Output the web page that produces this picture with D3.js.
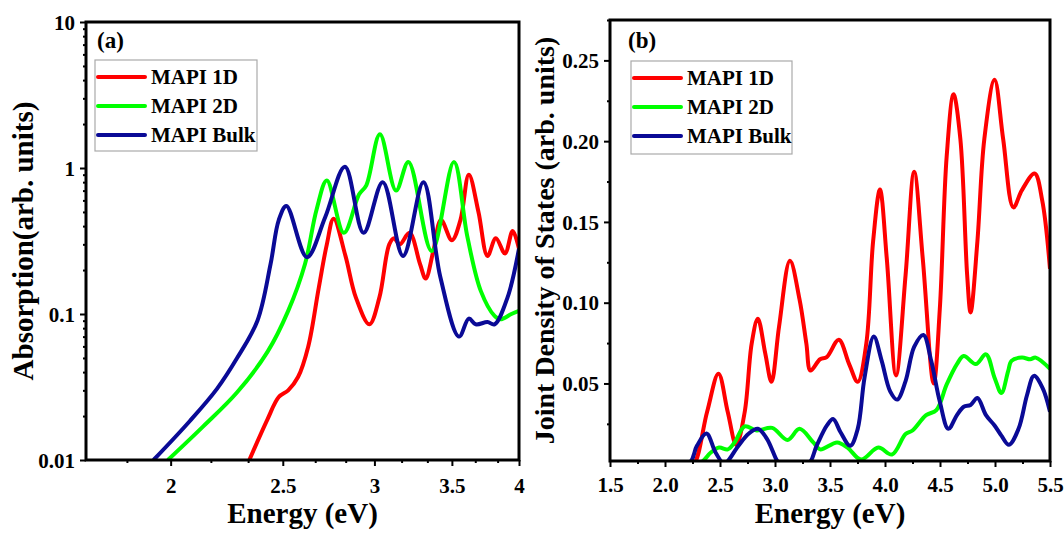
<!DOCTYPE html>
<html>
<head>
  <script src="https://d3js.org/d3.v7.min.js"></script>
  <style>
    body { margin: 0; background: #fff; }
    svg text { font-family: "Liberation Serif", "Times New Roman", serif; font-weight: bold; fill: #000; }
    .tick text { font-size: 21px; }
    .tick line { stroke: #000; stroke-width: 2; }
  </style>
</head>
<body>
  <svg id="chart" width="1064" height="537"></svg>
  <script>
    var seriesNames = ['MAPI 1D', 'MAPI 2D', 'MAPI Bulk'];
    var seriesColors = ['#ff0000', '#00ff00', '#0a0a96'];

    // (a) absorption, log-log
    var absE1D = [2.339, 2.425, 2.48, 2.527, 2.577, 2.63, 2.685, 2.729, 2.766, 2.832, 2.891, 2.97, 3.03, 3.09, 3.12, 3.155, 3.217, 3.285, 3.322, 3.373, 3.425, 3.5, 3.56, 3.62, 3.69, 3.757, 3.82, 3.89, 3.95, 4.0];
    var absV1D = [0.01, 0.019, 0.027, 0.03, 0.037, 0.06, 0.15, 0.3, 0.45, 0.25, 0.13, 0.085, 0.13, 0.3, 0.33, 0.3, 0.36, 0.22, 0.175, 0.27, 0.44, 0.32, 0.44, 0.9, 0.5, 0.25, 0.33, 0.26, 0.37, 0.28];
    var absE2D = [1.989, 2.134, 2.282, 2.425, 2.527, 2.613, 2.674, 2.729, 2.823, 2.91, 2.952, 3.033, 3.132, 3.21, 3.362, 3.514, 3.609, 3.707, 3.81, 3.855, 3.94, 4.0];
    var absV2D = [0.01, 0.017, 0.029, 0.055, 0.105, 0.22, 0.52, 0.82, 0.36, 0.66, 0.76, 1.7, 0.7, 1.1, 0.27, 1.1, 0.34, 0.144, 0.097, 0.092, 0.1, 0.105];
    var absEBulk = [1.933, 2.078, 2.193, 2.282, 2.377, 2.44, 2.48, 2.518, 2.623, 2.72, 2.829, 2.936, 3.05, 3.176, 3.307, 3.42, 3.55, 3.62, 3.67, 3.757, 3.81, 3.91, 4.0];
    var absVBulk = [0.01, 0.0185, 0.0307, 0.0497, 0.09, 0.22, 0.44, 0.55, 0.245, 0.46, 1.02, 0.36, 0.8, 0.25, 0.8, 0.18, 0.07, 0.093, 0.085, 0.088, 0.085, 0.13, 0.28];

    // (b) joint density of states
    var jdosE1D = [1.5, 2.2, 2.26, 2.383, 2.486, 2.57, 2.648, 2.725, 2.788, 2.844, 2.912, 2.968, 3.037, 3.136, 3.223, 3.285, 3.323, 3.41, 3.47, 3.58, 3.674, 3.752, 3.83, 3.892, 3.954, 4.016, 4.1, 4.187, 4.265, 4.343, 4.442, 4.498, 4.561, 4.623, 4.685, 4.747, 4.778, 4.84, 4.903, 4.996, 5.074, 5.167, 5.245, 5.36, 5.43, 5.5];
    var jdosV1D = [0, 0, 0, 0.0325, 0.056, 0.0325, 0.012, 0.0325, 0.0747, 0.09, 0.0684, 0.051, 0.0853, 0.126, 0.102, 0.0747, 0.058, 0.065, 0.0663, 0.077, 0.062, 0.051, 0.0747, 0.138, 0.17, 0.1275, 0.055, 0.117, 0.181, 0.1275, 0.05, 0.0958, 0.1909, 0.229, 0.2014, 0.117, 0.094, 0.138, 0.2014, 0.238, 0.2014, 0.159, 0.1697, 0.18, 0.163, 0.121];
    var jdosE2D = [1.5, 2.3, 2.414, 2.492, 2.57, 2.632, 2.725, 2.834, 2.975, 3.114, 3.223, 3.348, 3.41, 3.565, 3.659, 3.783, 3.939, 4.063, 4.187, 4.25, 4.374, 4.467, 4.561, 4.654, 4.716, 4.825, 4.918, 4.996, 5.058, 5.12, 5.15, 5.245, 5.32, 5.37, 5.5];
    var jdosV2D = [0, 0, 0.0071, 0.0103, 0.0092, 0.0135, 0.0234, 0.0209, 0.0225, 0.015, 0.0219, 0.0135, 0.0092, 0.0135, 0.0103, 0.0029, 0.0103, 0.006, 0.0187, 0.0209, 0.0304, 0.0335, 0.0494, 0.062, 0.067, 0.062, 0.068, 0.0536, 0.0441, 0.0578, 0.064, 0.066, 0.065, 0.066, 0.059];
    var jdosEBulk = [1.5, 2.21, 2.29, 2.377, 2.461, 2.539, 2.663, 2.757, 2.844, 2.928, 3.02, 3.05, 3.3, 3.378, 3.472, 3.528, 3.596, 3.684, 3.752, 3.814, 3.898, 3.97, 4.047, 4.11, 4.187, 4.265, 4.349, 4.42, 4.498, 4.576, 4.654, 4.716, 4.778, 4.84, 4.918, 4.996, 5.058, 5.127, 5.214, 5.292, 5.354, 5.432, 5.5];
    var jdosVBulk = [0, 0, 0.0114, 0.019, 0.0071, 0.0005, 0.011, 0.0187, 0.022, 0.0156, 0.002, 0, 0, 0.0114, 0.024, 0.028, 0.0198, 0.0114, 0.0219, 0.0536, 0.079, 0.064, 0.0451, 0.04, 0.0515, 0.0726, 0.08, 0.064, 0.0388, 0.0219, 0.0304, 0.0356, 0.0367, 0.041, 0.0304, 0.024, 0.0177, 0.012, 0.0219, 0.043, 0.0547, 0.0473, 0.0325];

    var xTicksA = [2, 2.5, 3, 3.5, 4];
    var yTicksA = [0.01, 0.1, 1, 10];
    var xTicksB = [1.5, 2.0, 2.5, 3.0, 3.5, 4.0, 4.5, 5.0, 5.5];
    var yTicksB = [0.05, 0.10, 0.15, 0.20, 0.25];

    var svg = d3.select('#chart');

    function zip(xs, ys) {
      return xs.map(function (x, i) { return [x, ys[i]]; });
    }

    function drawPanel(cfg) {
      var g = svg.append('g');
      var x = cfg.x, y = cfg.y;
      var x0 = x.range()[0], x1 = x.range()[1];
      var y0 = y.range()[0], y1 = y.range()[1];

      g.append('clipPath').attr('id', cfg.id + '-clip')
        .append('rect')
        .attr('x', x0).attr('y', y1)
        .attr('width', x1 - x0).attr('height', y0 - y1);

      // minor ticks
      g.append('g').attr('transform', 'translate(0,' + y0 + ')')
        .call(d3.axisBottom(x).tickValues(cfg.xMinor).tickSize(3).tickFormat(''))
        .call(function (a) { a.select('.domain').remove(); });
      g.append('g').attr('transform', 'translate(' + x0 + ',0)')
        .call(d3.axisLeft(y).tickValues(cfg.yMinor).tickSize(3).tickFormat(''))
        .call(function (a) { a.select('.domain').remove(); });

      // major ticks
      var xa = g.append('g').attr('transform', 'translate(0,' + y0 + ')')
        .call(d3.axisBottom(x).tickValues(cfg.xTicks).tickSize(6).tickPadding(cfg.xPad).tickFormat(cfg.xFormat));
      xa.select('.domain').remove();
      var ya = g.append('g').attr('transform', 'translate(' + x0 + ',0)')
        .call(d3.axisLeft(y).tickValues(cfg.yTicks).tickSize(6).tickPadding(5).tickFormat(cfg.yFormat));
      ya.select('.domain').remove();
      ya.selectAll('text').attr('dy', '0.34em');

      var line = d3.line()
        .x(function (d) { return x(d[0]); })
        .y(function (d) { return y(d[1]); })
        .curve(d3.curveCatmullRom.alpha(0.5));

      var plot = g.append('g').attr('clip-path', 'url(#' + cfg.id + '-clip)');
      cfg.series.forEach(function (s, i) {
        plot.append('path')
          .datum(s)
          .attr('fill', 'none')
          .attr('stroke', seriesColors[i])
          .attr('stroke-width', 4)
          .attr('stroke-linejoin', 'round')
          .attr('d', line);
      });

      g.append('rect')
        .attr('x', x0).attr('y', y1)
        .attr('width', x1 - x0).attr('height', y0 - y1)
        .attr('fill', 'none').attr('stroke', '#000').attr('stroke-width', 3);

      g.append('text')
        .attr('x', cfg.labelX).attr('y', 48)
        .style('font-size', '23px')
        .text(cfg.label);

      // legend
      var lg = g.append('g');
      lg.append('rect')
        .attr('x', cfg.legend[0]).attr('y', cfg.legend[1])
        .attr('width', cfg.legend[2]).attr('height', cfg.legend[3])
        .attr('fill', '#fff').attr('stroke', '#aaa').attr('stroke-width', 1.2);
      seriesNames.forEach(function (n, i) {
        var ly = cfg.legend[1] + 17 + i * 29;
        lg.append('line')
          .attr('x1', cfg.legend[0] + 3).attr('x2', cfg.legend[0] + 50)
          .attr('y1', ly).attr('y2', ly)
          .attr('stroke', seriesColors[i]).attr('stroke-width', 4)
          .attr('stroke-linecap', 'round');
        lg.append('text')
          .attr('x', cfg.legend[0] + 56).attr('y', ly + 7)
          .style('font-size', '21px')
          .text(n);
      });

      g.append('text')
        .attr('x', (x0 + x1) / 2).attr('y', 523)
        .attr('text-anchor', 'middle')
        .style('font-size', '29px')
        .text('Energy (eV)');

      g.append('text')
        .attr('transform', 'translate(' + cfg.yTitleX + ',' + (y0 + y1) / 2 + ') rotate(-90)')
        .attr('text-anchor', 'middle')
        .attr('dy', '0.35em')
        .style('font-size', cfg.yTitleSize)
        .text(cfg.yTitle);
    }

    // panel (a)
    var xA = d3.scaleLog().domain([1.69, 4]).range([86, 519]);
    var yA = d3.scaleLog().domain([0.01, 10]).range([460, 22]);
    var xMinorA = [];
    [1.5].concat(xTicksA).forEach(function (t) {
      [1 / 6, 2 / 6].forEach(function (f) {
        var v = t + f;
        if (v > 1.69 && v < 4 && xTicksA.indexOf(v) < 0) xMinorA.push(v);
      });
    });
    var yMinorA = [];
    yTicksA.slice(0, -1).forEach(function (t) {
      for (var k = 2; k <= 9; k++) yMinorA.push(t * k);
    });

    drawPanel({
      id: 'pa', x: xA, y: yA,
      xTicks: xTicksA, yTicks: yTicksA, xMinor: xMinorA, yMinor: yMinorA,
      xFormat: function (d) { return String(d); },
      yFormat: function (d) { return String(d); },
      xPad: 12,
      series: [zip(absE1D, absV1D), zip(absE2D, absV2D), zip(absEBulk, absVBulk)],
      label: '(a)', labelX: 97,
      legend: [95, 60, 162, 91],
      yTitle: 'Absorption(arb. units)', yTitleX: 23, yTitleSize: '29px'
    });

    // panel (b)
    var xB = d3.scaleLinear().domain([1.5, 5.5]).range([610, 1050]);
    var yB = d3.scaleLinear().domain([0.002, 0.275]).range([461, 20]);
    var xMinorB = xTicksB.slice(0, -1).map(function (t) { return t + 0.25; });
    var yMinorB = [0.025].concat(yTicksB.map(function (t) { return t + 0.025; }));

    drawPanel({
      id: 'pb', x: xB, y: yB,
      xTicks: xTicksB, yTicks: yTicksB, xMinor: xMinorB, yMinor: yMinorB,
      xFormat: d3.format('.1f'),
      yFormat: d3.format('.2f'),
      xPad: 10,
      series: [zip(jdosE1D, jdosV1D), zip(jdosE2D, jdosV2D), zip(jdosEBulk, jdosVBulk)],
      label: '(b)', labelX: 628,
      legend: [631, 61, 161, 93],
      yTitle: 'Joint Density of States (arb. units)', yTitleX: 544, yTitleSize: '28px'
    });
  </script>
</body>
</html>
